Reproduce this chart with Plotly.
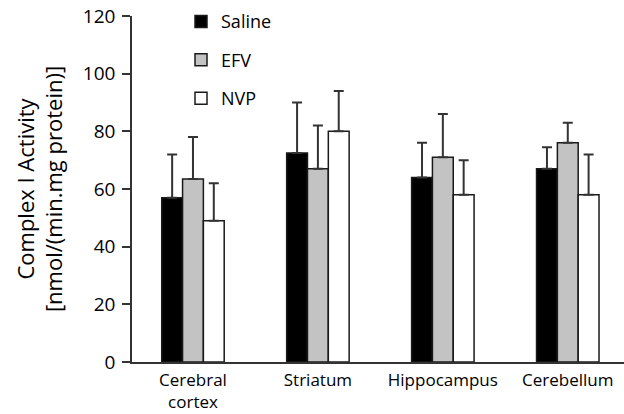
import plotly.graph_objects as go

categories = ["Cerebral<br>cortex", "Striatum", "Hippocampus", "Cerebellum"]
saline = [57, 72.5, 64, 67]
efv = [63.5, 67, 71, 76]
nvp = [49, 80, 58, 58]
saline_err = [15, 17.5, 12, 7.5]
efv_err = [14.5, 15, 15, 7]
nvp_err = [13, 14, 12, 14]
y_ticks = [0, 20, 40, 60, 80, 100, 120]

FONT = "Open Sans"
fig = go.Figure()

series = [
    ("Saline", saline, saline_err, "#000000"),
    ("EFV", efv, efv_err, "#c3c3c3"),
    ("NVP", nvp, nvp_err, "#ffffff"),
]
for i, (name, vals, errs, color) in enumerate(series):
    fig.add_trace(go.Bar(
        name=name, x=categories, y=vals,
        marker=dict(color=color, line=dict(color="#1a1a1a", width=1.5)),
        error_y=dict(type="data", symmetric=False, array=errs,
                     arrayminus=[0] * len(errs), color="#333333",
                     thickness=2, width=5),
        legendgroup=f"g{i}",
    ))

fig.update_layout(
    width=624, height=414,
    margin=dict(l=132, r=0, t=16, b=51.5, autoexpand=False),
    paper_bgcolor="white", plot_bgcolor="white",
    barmode="group", bargap=0.5, bargroupgap=0,
    font=dict(family=FONT, color="#000000", size=18),
    showlegend=True,
    legend=dict(x=0.0996, y=1.037, xanchor="left", yanchor="top",
                font=dict(size=18, family=FONT, color="#000000"),
                tracegroupgap=12, bgcolor="rgba(0,0,0,0)"),
    xaxis=dict(range=[-0.488, 3.45], showline=True, linecolor="#333333",
               linewidth=1.5, ticks="", tickfont=dict(size=17),
               showgrid=False, zeroline=False, automargin=False,
               ticklabelstandoff=2),
    yaxis=dict(range=[0, 120], tickvals=y_ticks, showline=True,
               linecolor="#333333", linewidth=1.5, ticks="outside",
               ticklen=8, tickwidth=1.5, tickcolor="#333333",
               tickfont=dict(size=19), showgrid=False, zeroline=False,
               ticklabelstandoff=3, automargin=False,
               title=dict(text="Complex I Activity<br>[nmol/(min.mg protein)]",
                          font=dict(size=22), standoff=14)),
)

fig.write_html("out.html",
               config={"displayModeBar": False},
               post_script="document.body.style.margin='0';")
